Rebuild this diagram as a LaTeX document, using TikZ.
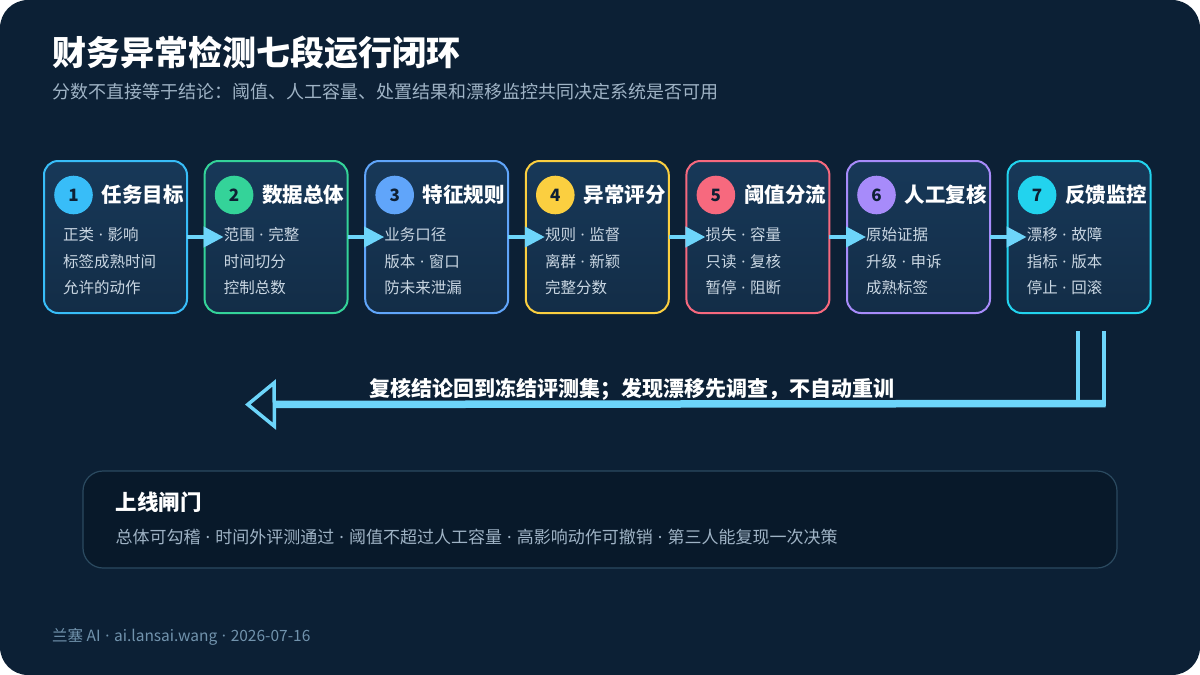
\documentclass[tikz,border=0pt]{standalone}
\usepackage{fontspec}
\setmainfont{Noto Sans CJK SC}
\newfontfamily\latinfont{Noto Sans}
\usepackage{tikz}
\usetikzlibrary{positioning,arrows.meta,calc}
\newcommand\dotsep{\hspace{0.3em}{\latinfont ·}\hspace{0.3em}}
\definecolor{bgc}{HTML}{0C2035}
\definecolor{boxtop}{HTML}{173858}
\definecolor{boxbot}{HTML}{132D47}
\definecolor{gatec}{HTML}{08192A}
\definecolor{gateline}{HTML}{2B4A60}
\definecolor{arrc}{HTML}{6DD5FA}
\definecolor{numc}{HTML}{0E2034}
\definecolor{bodyc}{HTML}{C9D6E2}
\definecolor{subc}{HTML}{9FB3C5}
\definecolor{footc}{HTML}{7193AD}
\definecolor{c1}{HTML}{38BDF8}
\definecolor{c2}{HTML}{34D399}
\definecolor{c3}{HTML}{60A5FA}
\definecolor{c4}{HTML}{FBCF40}
\definecolor{c5}{HTML}{F7697E}
\definecolor{c6}{HTML}{A78BFA}
\definecolor{c7}{HTML}{22D3EE}
\tikzset{
  stage/.style ={draw, rectangle, rounded corners=14pt, line width=2pt, outer sep=0pt, top color=boxtop, bottom color=boxbot, minimum width=143pt, minimum height=152pt},
  num/.style   ={circle, minimum size=38.6pt, inner sep=0pt, text=numc, font=\fontsize{17}{17}\selectfont\bfseries},
  ttl/.style   ={inner sep=0pt, text=white, font=\fontsize{20.5}{20.5}\selectfont\bfseries},
  body/.style  ={inner sep=0pt, align=left, text=bodyc, font=\fontsize{15.5}{26.3}\selectfont},
  flow/.style  ={-{Triangle[length=20pt, width=20pt]}, line width=4pt, draw=arrc},
  loopline/.style={line width=4pt, draw=arrc},
  back/.style  ={-{Triangle[open, length=31pt, width=50pt, line width=3.5pt]}, line width=7.5pt, draw=arrc},
  gate/.style  ={draw=gateline, fill=gatec, line width=1.2pt, rounded corners=20pt, minimum width=1034pt, minimum height=97pt},
}
\begin{document}
\begin{tikzpicture}[x=1pt, y=-1pt]
  \fill[white] (0,0) rectangle (1200,675);
  \fill[bgc, rounded corners=28pt] (0,0) rectangle (1200,675);
  \useasboundingbox (0,0) rectangle (1200,675);

  \node[anchor=west, inner sep=0pt, text=white, font=\fontsize{34}{34}\selectfont\bfseries] (title) at (52,52.5) {财务异常检测七段运行闭环};
  \node[anchor=west, inner sep=0pt, text=subc, font=\fontsize{18}{18}\selectfont] (sub) at (52,92) {分数不直接等于结论：阈值、人工容量、处置结果和漂移监控共同决定系统是否可用};

  \node[stage, draw=c1] (s1) at (115.5,237) {};
  \node[stage, draw=c2, right=17.6pt of s1] (s2) {};
  \node[stage, draw=c3, right=17.6pt of s2] (s3) {};
  \node[stage, draw=c4, right=17.6pt of s3] (s4) {};
  \node[stage, draw=c5, right=17.6pt of s4] (s5) {};
  \node[stage, draw=c6, right=17.6pt of s5] (s6) {};
  \node[stage, draw=c7, right=17.6pt of s6] (s7) {};

  \node[num, fill=c1] (n1) at ($(s1.north west)+(29.5,34)$) {1};
  \node[ttl, right=8.5pt of n1] (t1) {任务目标};
  \node[body, anchor=north west] (b1) at ($(s1.north west)+(19,66.5)$) {正类\dotsep 影响\\标签成熟时间\\允许的动作};

  \node[num, fill=c2] (n2) at ($(s2.north west)+(29.5,34)$) {2};
  \node[ttl, right=8.5pt of n2] (t2) {数据总体};
  \node[body, anchor=north west] (b2) at ($(s2.north west)+(19,66.5)$) {范围\dotsep 完整\\时间切分\\控制总数};

  \node[num, fill=c3] (n3) at ($(s3.north west)+(29.5,34)$) {3};
  \node[ttl, right=8.5pt of n3] (t3) {特征规则};
  \node[body, anchor=north west] (b3) at ($(s3.north west)+(19,66.5)$) {业务口径\\版本\dotsep 窗口\\防未来泄漏};

  \node[num, fill=c4] (n4) at ($(s4.north west)+(29.5,34)$) {4};
  \node[ttl, right=8.5pt of n4] (t4) {异常评分};
  \node[body, anchor=north west] (b4) at ($(s4.north west)+(19,66.5)$) {规则\dotsep 监督\\离群\dotsep 新颖\\完整分数};

  \node[num, fill=c5] (n5) at ($(s5.north west)+(29.5,34)$) {5};
  \node[ttl, right=8.5pt of n5] (t5) {阈值分流};
  \node[body, anchor=north west] (b5) at ($(s5.north west)+(19,66.5)$) {损失\dotsep 容量\\只读\dotsep 复核\\暂停\dotsep 阻断};

  \node[num, fill=c6] (n6) at ($(s6.north west)+(29.5,34)$) {6};
  \node[ttl, right=8.5pt of n6] (t6) {人工复核};
  \node[body, anchor=north west] (b6) at ($(s6.north west)+(19,66.5)$) {原始证据\\升级\dotsep 申诉\\成熟标签};

  \node[num, fill=c7] (n7) at ($(s7.north west)+(29.5,34)$) {7};
  \node[ttl, right=8.5pt of n7] (t7) {反馈监控};
  \node[body, anchor=north west] (b7) at ($(s7.north west)+(19,66.5)$) {漂移\dotsep 故障\\指标\dotsep 版本\\停止\dotsep 回滚};

  \draw[flow] (s1.east) -- ([xshift=19pt]s2.west);
  \draw[flow] (s2.east) -- ([xshift=19pt]s3.west);
  \draw[flow] (s3.east) -- ([xshift=19pt]s4.west);
  \draw[flow] (s4.east) -- ([xshift=19pt]s5.west);
  \draw[flow] (s5.east) -- ([xshift=19pt]s6.west);
  \draw[flow] (s6.east) -- ([xshift=19pt]s7.west);

  \coordinate (fa) at ($(s7.south)+(-1.5,18)$);
  \coordinate (fb) at ($(fa)+(26,0)$);
  \coordinate (fc) at ($(fa)+(0,72.5)$);
  \coordinate (fend) at (245,404.5);
  \draw[loopline] (fa) -- (fa |- fc) -- (fb |- fc) -- (fb);
  \draw[back] ([xshift=2pt]fb |- fc) -- (fend);
  \node[inner sep=0pt, text=white, font=\fontsize{21}{21}\selectfont\bfseries] (fbl) at (631.5,389.5) {复核结论回到冻结评测集；发现漂移先调查，不自动重训};

  \node[gate] (g) at (600,519.5) {};
  \node[anchor=west, inner sep=0pt, text=white, font=\fontsize{21.5}{21.5}\selectfont\bfseries] (gt) at ($(g.north west)+(33,32)$) {上线闸门};
  \node[anchor=west, inner sep=0pt, text=subc, font=\fontsize{17}{17}\selectfont] (gb) at ($(g.north west)+(33,67)$) {总体可勾稽\dotsep 时间外评测通过\dotsep 阈值不超过人工容量\dotsep 高影响动作可撤销\dotsep 第三人能复现一次决策};

  \node[anchor=west, inner sep=0pt, text=footc, font=\fontsize{15.5}{15.5}\selectfont] (foot) at (52,637) {兰塞 AI\dotsep ai.lansai.wang\dotsep 2026-07-16};
\end{tikzpicture}
\end{document}
